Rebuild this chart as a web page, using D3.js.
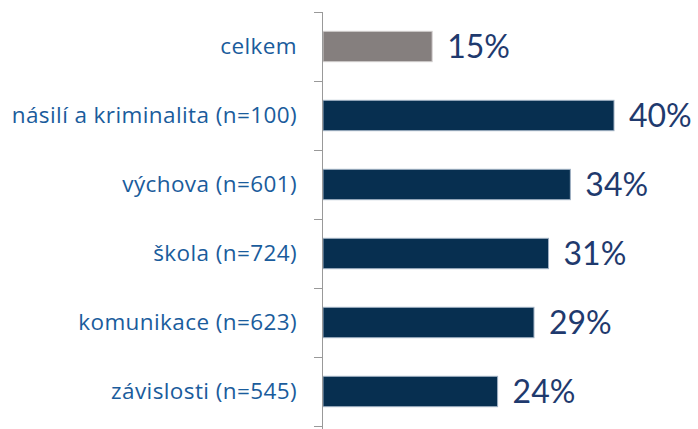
<!DOCTYPE html>
<html>
<head>
<meta charset="utf-8">
<script src="https://cdn.jsdelivr.net/npm/d3@7"></script>
<style>
  body { margin: 0; background: #fff; }
  svg text { font-family: "Open Sans", sans-serif; }
</style>
</head>
<body>
<div id="chart"></div>
<script>
// data
const categories = ["celkem", "násilí a kriminalita (n=100)", "výchova (n=601)", "škola (n=724)", "komunikace (n=623)", "závislosti (n=545)"];
const values = [15, 40, 34, 31, 29, 24];
const barColors = ["#857f7e", "#072f50", "#072f50", "#072f50", "#072f50", "#072f50"];

(function() {
    const width = 698, height = 429;
    const margin = { top: 12, right: 10, bottom: 3, left: 323 };

    const svg = d3.select("#chart")
        .append("svg")
        .attr("width", width)
        .attr("height", height);

    const x = d3.scaleLinear()
        .domain([0, 40])
        .range([margin.left, margin.left + 291]);

    const y = d3.scaleBand()
        .domain(categories)
        .range([margin.top, margin.top + 6 * 69])
        .paddingInner(0.56)
        .paddingOuter(0.28);

    // bars
    svg.selectAll(".bar")
        .data(values)
        .enter()
        .append("rect")
        .attr("class", "bar")
        .attr("x", x(0))
        .attr("y", (d, i) => y(categories[i]))
        .attr("width", d => x(d) - x(0))
        .attr("height", y.bandwidth())
        .attr("fill", (d, i) => barColors[i])
        .attr("stroke", (d, i) => i === 0 ? "#d0cdcc" : "#9fb0c2")
        .attr("stroke-width", 1);

    // value labels
    svg.selectAll(".val")
        .data(values)
        .enter()
        .append("text")
        .attr("class", "val")
        .attr("x", d => x(d) + 15)
        .attr("y", (d, i) => y(categories[i]) + y.bandwidth() / 2)
        .attr("dy", "0.35em")
        .style("font-family", "Lato, sans-serif")
        .style("font-size", "32px")
        .style("fill", "#1f3a6e")
        .text(d => d + "%");

    // category axis
    const tickYs = d3.range(categories.length + 1).map(i => margin.top + i * 69);
    const axis = svg.append("g").attr("class", "axis");
    axis.append("line")
        .attr("x1", margin.left - 0.5).attr("x2", margin.left - 0.5)
        .attr("y1", margin.top).attr("y2", height)
        .attr("stroke", "#999").attr("stroke-width", 1);
    axis.selectAll(".tick")
        .data(tickYs)
        .enter()
        .append("line")
        .attr("x1", margin.left - 9).attr("x2", margin.left)
        .attr("y1", d => d + 0.5).attr("y2", d => d + 0.5)
        .attr("stroke", "#999").attr("stroke-width", 1);

    axis.selectAll(".cat")
        .data(categories)
        .enter()
        .append("text")
        .attr("class", "cat")
        .attr("x", 297)
        .attr("y", d => y(d) + y.bandwidth() / 2)
        .attr("dy", "0.35em")
        .attr("text-anchor", "end")
        .style("font-size", "22.5px")
        .style("letter-spacing", "0.4px")
        .style("fill", "#1a5c9c")
        .text(d => d);
})();
</script>
</body>
</html>
